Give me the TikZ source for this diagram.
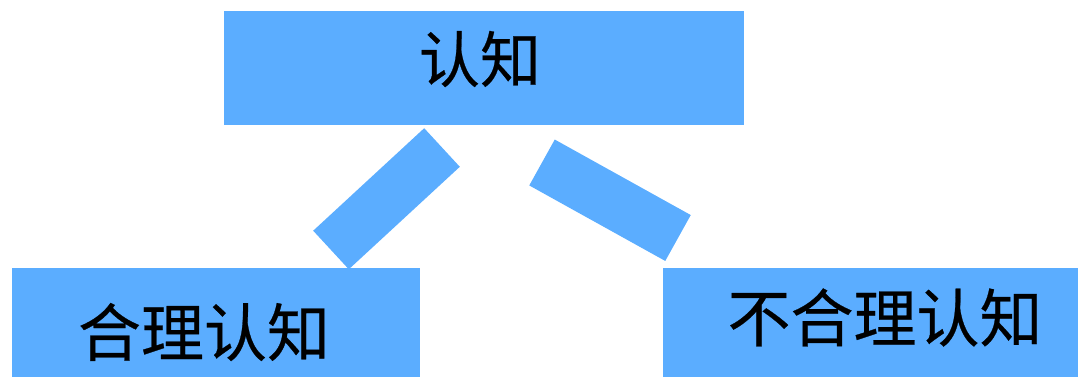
\documentclass[tikz,border=0pt]{standalone}
\usepackage{fontspec}
\newfontfamily\cjk[FakeBold=0.4]{Noto Sans CJK SC}
\definecolor{boxblue}{HTML}{5BADFF}
\begin{document}
\begin{tikzpicture}[x=1pt,y=-1pt,
  box/.style={fill=boxblue,draw=none,inner sep=0pt,anchor=north west},
  lbl/.style={inner sep=0pt,text=black,font=\cjk\fontsize{63}{63}\selectfont},
  bar/.style={draw=boxblue,line width=52.5pt,line cap=butt}]
\useasboundingbox (0,0) rectangle (1078,377);
\node[box,minimum width=520pt,minimum height=114pt] (top) at (224,11) {};
\node[box,minimum width=408pt,minimum height=110pt] (left) at (12,268) {};
\node[box,minimum width=416pt,minimum height=110pt] (right) at (663,268) {};
\node[lbl,font=\cjk\fontsize{61}{61}\selectfont] (ttop) at (480,59) {认知};
\node[lbl] (tleft) at (204,332) {合理认知};
\node[lbl] (tright) at (885,317.5) {不合理认知};
\coordinate (l1) at (442,147.5);
\coordinate (l2) at (331,250);
\coordinate (r1) at (542,162.5);
\coordinate (r2) at (678,238);
\draw[bar] (l1) -- (l2);
\draw[bar] (r1) -- (r2);
\end{tikzpicture}
\end{document}
